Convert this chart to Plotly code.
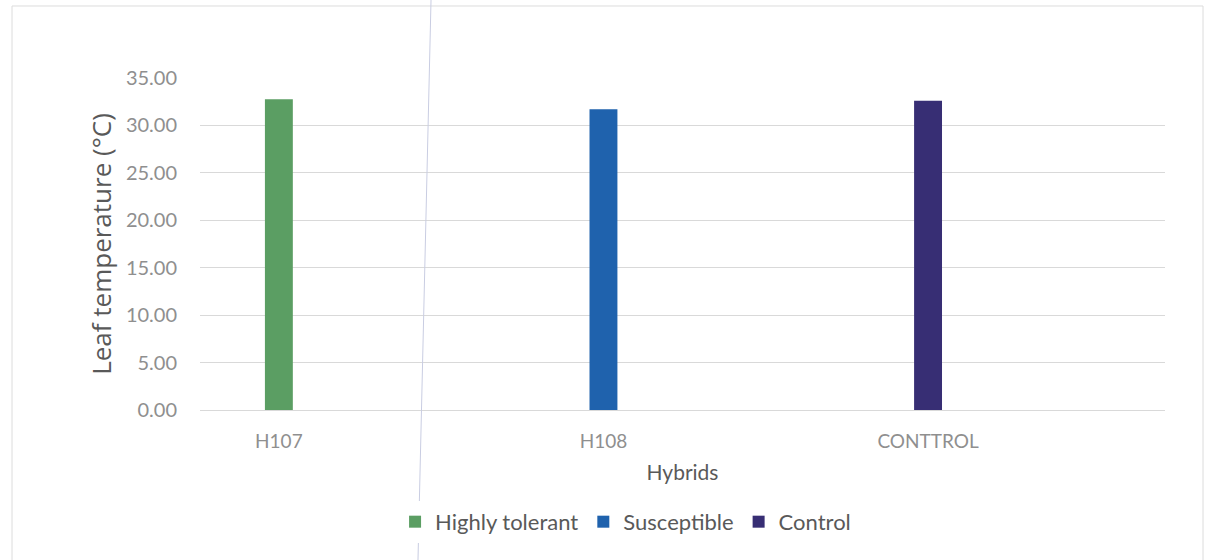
import plotly.graph_objects as go

# Leaf temperature by hybrid, one series per tolerance class
categories = ["H107", "H108", "CONTTROL"]
series_names = ["Highly tolerant", "Susceptible", "Control"]
series_values = [32.75, 31.7, 32.6]
series_colors = ["#5b9e63", "#1f62ad", "#372e74"]
y_ticks = [0, 5, 10, 15, 20, 25, 30, 35]
y_tick_labels = ["0.00", "5.00", "10.00", "15.00", "20.00", "25.00", "30.00", "35.00"]

FONT = "Lato, Calibri, Carlito, sans-serif"
TITLE_FONT = "Open Sans, Calibri, sans-serif"

fig = go.Figure()
for cat, name, val, col in zip(categories, series_names, series_values, series_colors):
    fig.add_trace(go.Bar(
        x=[cat], y=[val], name=name,
        marker=dict(color=col, line=dict(width=0)),
        width=0.086,
    ))

fig.update_layout(
    width=1215, height=560,
    margin=dict(l=200, r=50, t=78, b=150),
    paper_bgcolor="white", plot_bgcolor="white",
    barmode="overlay",
    font=dict(family=FONT, color="#8c8c8c"),
    showlegend=True,
    legend=dict(
        orientation="h", x=0.441, xanchor="center", y=-0.337, yanchor="middle",
        font=dict(family=FONT, size=22, color="#595959"),
        itemwidth=30, traceorder="normal",
    ),
    xaxis=dict(
        type="category", range=[-0.243, 2.73],
        showgrid=False, zeroline=False, showline=False,
        ticks="", ticklabelstandoff=18,
        tickfont=dict(family=FONT, size=19, color="#8f8f8f"),
        title=dict(text="Hybrids", font=dict(family=FONT, size=21, color="#595959"), standoff=14),
    ),
    yaxis=dict(
        range=[0, 35], tickvals=y_ticks, ticktext=y_tick_labels,
        showgrid=True, gridcolor="#d9d9d9", gridwidth=1,
        zeroline=True, zerolinecolor="#d9d9d9", zerolinewidth=1,
        showline=False, ticks="", ticklabelstandoff=22,
        tickfont=dict(family=FONT, size=20, color="#8f8f8f"),
        title=dict(text="Leaf temperature (°C)", font=dict(family=TITLE_FONT, size=26, color="#595959"), standoff=6),
    ),
    shapes=[
        # light frame around the chart
        dict(type="rect", xref="paper", yref="paper",
             x0=-0.1948, x1=1.0394, y0=-0.5, y1=1.2169,
             line=dict(color="#dcdcdc", width=1), layer="below"),
        # faint vertical rule crossing the sheet
        dict(type="line", xref="paper", yref="paper",
             x0=0.2394, y0=1.235, x1=0.2259, y1=-0.452,
             line=dict(color="#c9cde2", width=1), layer="above"),
    ],
)

fig.write_html("out.html")
